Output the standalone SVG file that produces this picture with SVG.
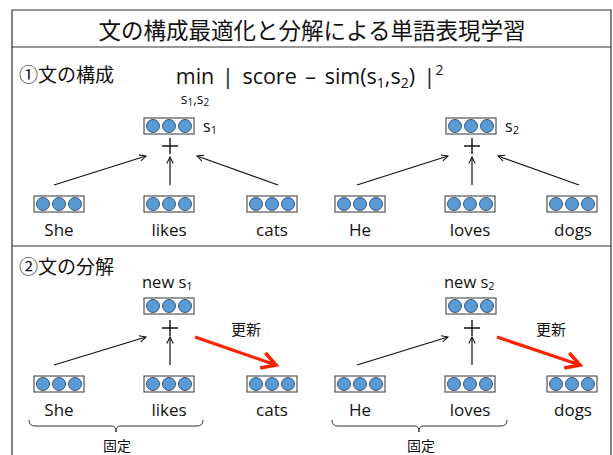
<svg xmlns="http://www.w3.org/2000/svg" xmlns:xlink="http://www.w3.org/1999/xlink" width="613" height="455" viewBox="0 0 613 455">
<style>
text{font-family:"Open Sans","Noto Sans CJK JP",sans-serif;fill:#111}
.jp{font-family:"Noto Sans CJK JP",sans-serif}
.w{font-size:17px;text-anchor:middle}
.f{font-size:21.5px}
.frame{fill:none;stroke:#333;stroke-width:1.2}
.ar{stroke:#111;stroke-width:1.2;fill:none;marker-end:url(#ah)}
.red{stroke:#ff2200;stroke-width:3.2;fill:none;marker-end:url(#rh)}
.plus{stroke:#111;stroke-width:1.4}
.brace{fill:none;stroke:#333;stroke-width:1}
</style>
<defs>
<marker id="ah" viewBox="0 0 10 10" refX="9" refY="5" markerWidth="8" markerHeight="8" markerUnits="userSpaceOnUse" orient="auto">
<path d="M1,1 L9,5 L1,9" fill="none" stroke="#111" stroke-width="1.3"/>
</marker>
<marker id="rh" viewBox="0 0 10 10" refX="8" refY="5" markerWidth="20" markerHeight="20" markerUnits="userSpaceOnUse" orient="auto">
<path d="M1,1 L8,5 L1,9" fill="none" stroke="#ff2200" stroke-width="1.8"/>
</marker>
<g id="vec">
<rect x="0" y="0" width="50" height="16" fill="#fff" stroke="#333" stroke-width="1"/>
<circle cx="9" cy="8" r="6.5" fill="#5b9bd5" stroke="#1f3b5c" stroke-width="0.8"/>
<circle cx="25" cy="8" r="6.5" fill="#5b9bd5" stroke="#1f3b5c" stroke-width="0.8"/>
<circle cx="41" cy="8" r="6.5" fill="#5b9bd5" stroke="#1f3b5c" stroke-width="0.8"/>
</g>
</defs>
<rect width="613" height="455" fill="#fff"/>
<g id="frame">
<path class="frame" d="M12,460 V10 H611 V460"/>
<line class="frame" x1="12" y1="47" x2="611" y2="47"/>
<line class="frame" x1="12" y1="246" x2="611" y2="246"/>
</g>
<text id="title" class="jp" x="312" y="39" font-size="22.5" text-anchor="middle">文の構成最適化と分解による単語表現学習</text>
<text id="sec1" class="jp" x="19" y="82" font-size="19">①文の構成</text>
<g id="formula">
<text class="f" x="195" y="84" text-anchor="middle">min</text>
<text x="195" y="104" font-size="14" text-anchor="middle">s<tspan font-size="10" dy="2">1</tspan><tspan dy="-2">,s</tspan><tspan font-size="10" dy="2">2</tspan></text>
<text class="f" x="222" y="84" word-spacing="3" xml:space="preserve">| score – sim(s<tspan font-size="14" dy="4">1</tspan><tspan dy="-4">,s</tspan><tspan font-size="14" dy="4">2</tspan><tspan dy="-4">) |</tspan><tspan font-size="14" dy="-9">2</tspan></text>
</g>
<g id="s1">
<use xlink:href="#vec" x="144" y="118"/>
<text x="203" y="132" font-size="16">s<tspan font-size="11" dy="2">1</tspan></text>
<path class="plus" d="M162,146 H178 M170,138 V154"/>
</g>
<g id="s2">
<use xlink:href="#vec" x="446" y="118"/>
<text x="505" y="132" font-size="16">s<tspan font-size="11" dy="2">2</tspan></text>
<path class="plus" d="M464,146 H480 M472,138 V154"/>
</g>
<g id="she1"><use xlink:href="#vec" x="34" y="196"/><text class="w" x="59" y="236">She</text></g>
<g id="likes1"><use xlink:href="#vec" x="144" y="196"/><text class="w" x="169" y="236">likes</text></g>
<g id="cats1"><use xlink:href="#vec" x="247" y="196"/><text class="w" x="272" y="236">cats</text></g>
<g id="he1"><use xlink:href="#vec" x="335" y="196"/><text class="w" x="360" y="236">He</text></g>
<g id="loves1"><use xlink:href="#vec" x="445" y="196"/><text class="w" x="470" y="236">loves</text></g>
<g id="dogs1"><use xlink:href="#vec" x="547" y="196"/><text class="w" x="573" y="236">dogs</text></g>
<text id="sec2" class="jp" x="19" y="274" font-size="19">②文の分解</text>
<g id="news1">
<text x="142" y="288" font-size="16.5">new s<tspan font-size="11" dy="2">1</tspan></text>
<use xlink:href="#vec" x="144" y="298"/>
<path class="plus" d="M162,328 H178 M170,320 V336"/>
</g>
<g id="news2">
<text x="444" y="288" font-size="16.5">new s<tspan font-size="11" dy="2">2</tspan></text>
<use xlink:href="#vec" x="446" y="298"/>
<path class="plus" d="M464,328 H480 M472,320 V336"/>
</g>
<g id="she2"><use xlink:href="#vec" x="34" y="376"/><text class="w" x="59" y="416">She</text></g>
<g id="likes2"><use xlink:href="#vec" x="144" y="376"/><text class="w" x="169" y="416">likes</text></g>
<g id="cats2"><use xlink:href="#vec" x="247" y="376"/><text class="w" x="272" y="416">cats</text></g>
<g id="he2"><use xlink:href="#vec" x="335" y="376"/><text class="w" x="360" y="416">He</text></g>
<g id="loves2"><use xlink:href="#vec" x="445" y="376"/><text class="w" x="470" y="416">loves</text></g>
<g id="dogs2"><use xlink:href="#vec" x="547" y="376"/><text class="w" x="573" y="416">dogs</text></g>
<text class="jp" x="246" y="335" font-size="15" text-anchor="middle">更新</text>
<text class="jp" x="551" y="335" font-size="15" text-anchor="middle">更新</text>
<g id="fixed1">
<path class="brace" d="M29,420 Q29,426 35,426 H112 Q116,426 116,432 Q116,426 120,426 H197 Q203,426 203,420"/>
<text class="jp" x="117" y="451" font-size="14" text-anchor="middle">固定</text>
</g>
<g id="fixed2">
<path class="brace" d="M332,420 Q332,426 338,426 H415 Q419,426 419,432 Q419,426 423,426 H501 Q507,426 507,420"/>
<text class="jp" x="421" y="451" font-size="14" text-anchor="middle">固定</text>
</g>
<g id="connectors">
<line class="ar" x1="54" y1="185" x2="146" y2="156"/>
<line class="ar" x1="170" y1="185" x2="170" y2="157"/>
<line class="ar" x1="278" y1="185" x2="197" y2="156"/>
<line class="ar" x1="357" y1="185" x2="448" y2="156"/>
<line class="ar" x1="472" y1="185" x2="472" y2="157"/>
<line class="ar" x1="579" y1="185" x2="498" y2="156"/>
<line class="ar" x1="54" y1="365" x2="146" y2="337"/>
<line class="ar" x1="170" y1="365" x2="170" y2="337"/>
<line class="red" x1="195" y1="337" x2="276" y2="365"/>
<line class="ar" x1="357" y1="365" x2="448" y2="337"/>
<line class="ar" x1="472" y1="365" x2="472" y2="337"/>
<line class="red" x1="497" y1="337" x2="580" y2="365"/>
</g>
</svg>
